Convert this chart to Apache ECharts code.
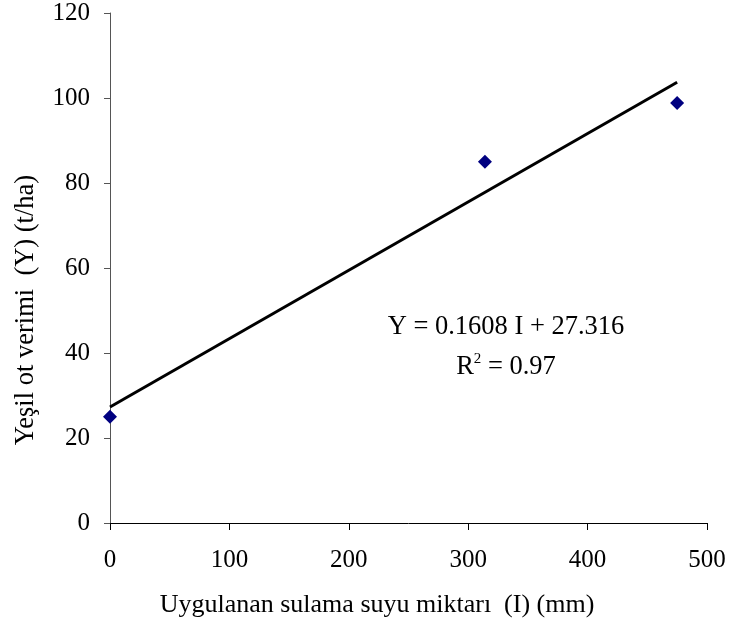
<!DOCTYPE html>
<html>
<head>
<meta charset="utf-8">
<script src="https://cdn.jsdelivr.net/npm/echarts@6/dist/echarts.min.js"></script>
<style>html,body{margin:0;padding:0;background:#fff}#c{width:731px;height:630px}</style>
</head>
<body>
<div id="c"></div>
<script>
// Data
const irrigation = [0, 314, 475];          // I (mm)
const yieldVals = [25, 85, 98.8];          // Y (t/ha)
const trendX = [0, 475];
const trendY = [27.3, 103.7];
const xTicks = [0, 100, 200, 300, 400, 500];
const yTicks = [0, 20, 40, 60, 80, 100, 120];
const xTitle = 'Uygulanan sulama suyu miktarı  (I) (mm)';
const yTitle = 'Yeşil ot verimi  (Y) (t/ha)';
const eqLine1 = 'Y = 0.1608 I + 27.316';
const eqLine2 = '{r|R}{s|2}{r| = 0.97}';

const FONT = '"Liberation Serif", "Times New Roman", serif';
const chart = echarts.init(document.getElementById('c'));
chart.setOption({
  animation: false,
  backgroundColor: '#fff',
  textStyle: { fontFamily: FONT },
  grid: { left: 110, right: 24, top: 13, bottom: 107, containLabel: false },
  xAxis: {
    type: 'value', min: xTicks[0], max: xTicks[xTicks.length - 1], interval: 100,
    axisLine: { onZero: false, lineStyle: { color: '#000', width: 1 } },
    axisTick: { show: true, inside: false, length: 7, lineStyle: { color: '#000' } },
    axisLabel: { margin: 25, fontSize: 25, color: '#000', fontFamily: FONT },
    splitLine: { show: false }
  },
  yAxis: {
    type: 'value', min: yTicks[0], max: yTicks[yTicks.length - 1], interval: 20,
    axisLine: { show: true, onZero: false, lineStyle: { color: '#555', width: 1 } },
    axisTick: { show: true, inside: false, length: 6, lineStyle: { color: '#555' } },
    axisLabel: { margin: 20, fontSize: 25, color: '#000', fontFamily: FONT },
    splitLine: { show: false }
  },
  series: [
    {
      type: 'line',
      data: trendX.map((x, i) => [x, trendY[i]]),
      showSymbol: false,
      symbol: 'none',
      lineStyle: { color: '#000', width: 3 },
      z: 2
    },
    {
      type: 'scatter',
      data: irrigation.map((x, i) => [x, yieldVals[i]]),
      symbol: 'diamond',
      symbolSize: [14, 14],
      itemStyle: { color: '#000080', opacity: 1 },
      z: 3
    }
  ],
  graphic: [
    { type: 'text', x: 377, y: 605,
      style: { text: xTitle, font: '26px ' + FONT, fill: '#000', align: 'center', verticalAlign: 'middle' } },
    { type: 'text', x: 26, y: 310, rotation: Math.PI / 2,
      style: { text: yTitle, font: '26.5px ' + FONT, fill: '#000', align: 'center', verticalAlign: 'middle' } },
    { type: 'text', x: 506, y: 327,
      style: { text: eqLine1, font: '26.5px ' + FONT, fill: '#000', align: 'center', verticalAlign: 'middle' } },
    { type: 'text', x: 506, y: 367,
      style: { text: eqLine2, align: 'center', verticalAlign: 'middle',
        rich: {
          r: { fontSize: 26.5, fontFamily: FONT, color: '#000' },
          s: { fontSize: 15, fontFamily: FONT, color: '#000', verticalAlign: 'top', padding: [0, 0, 15, 0] }
        } } }
  ]
});
</script>
</body>
</html>
